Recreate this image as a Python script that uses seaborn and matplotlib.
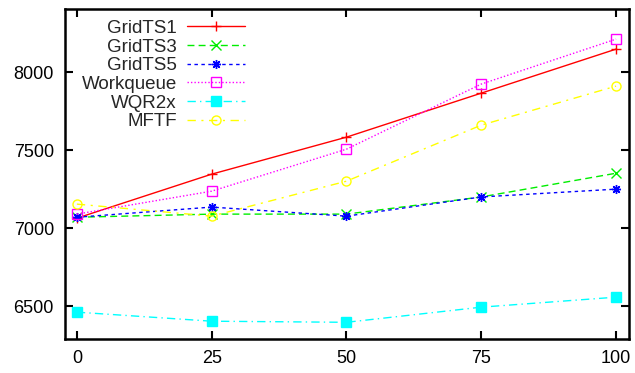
import matplotlib
matplotlib.use("Agg")
import matplotlib.pyplot as plt
import seaborn as sns
import pandas as pd

x = [0, 25, 50, 75, 100]
gridts1 = [7064, 7346, 7583, 7865, 8147]
gridts3 = [7070, 7090, 7090, 7200, 7352]
gridts5 = [7070, 7135, 7077, 7200, 7250]
workqueue = [7090, 7237, 7506, 7923, 8211]
wqr2x = [6462, 6404, 6397, 6494, 6558]
mftf = [7154, 7077, 7301, 7660, 7910]

series = [
    ("GridTS1", gridts1, "#ff0000", "-", "+", "none"),
    ("GridTS3", gridts3, "#00ee00", (0, (5, 3)), "x", "none"),
    ("GridTS5", gridts5, "#0000ff", (0, (2.5, 2.5)), (8, 2, 0), "none"),
    ("Workqueue", workqueue, "#ff00ff", (0, (1, 1.5)), "s", "none"),
    ("WQR2x", wqr2x, "#00ffff", (0, (6, 3, 1, 3)), "s", "#00ffff"),
    ("MFTF", mftf, "#ffff00", (0, (6, 4, 1.5, 4)), "o", "none"),
]

sns.set_style("ticks")
plt.rcParams["font.family"] = ["Liberation Sans", "DejaVu Sans"]

fig = plt.figure(figsize=(6.35, 3.73), dpi=100)
ax = fig.add_axes([65 / 635, 1 - 339 / 373, 564 / 635, 330 / 373])

for name, vals, col, ls, mk, fc in series:
    df = pd.DataFrame({"x": x, "y": vals})
    sns.lineplot(data=df, x="x", y="y", ax=ax, color=col, linestyle=ls,
                 marker=mk, markersize=6.5, markerfacecolor=fc,
                 markeredgecolor=col, markeredgewidth=1.0, linewidth=1.0,
                 label=name)

ax.set_xlim(-2.2, 102.4)
ax.set_ylim(6290, 8404)
ax.set_xticks(x)
ax.set_yticks([6500, 7000, 7500, 8000])
ax.set_xlabel("")
ax.set_ylabel("")
ax.tick_params(direction="in", length=6, width=1.5, top=True, right=True,
               labelsize=13, colors="black", pad=8)
for s in ax.spines.values():
    s.set_linewidth(1.8)
    s.set_color("black")

leg = ax.legend(loc="upper right", bbox_to_anchor=((247 - 65) / 564, 1 - 9 / 330),
                frameon=False, markerfirst=False, fontsize=13.5, handlelength=3.1,
                handletextpad=0.55, labelspacing=0.08, borderpad=0.1, borderaxespad=0)

fig.savefig("out.png", dpi=100)
